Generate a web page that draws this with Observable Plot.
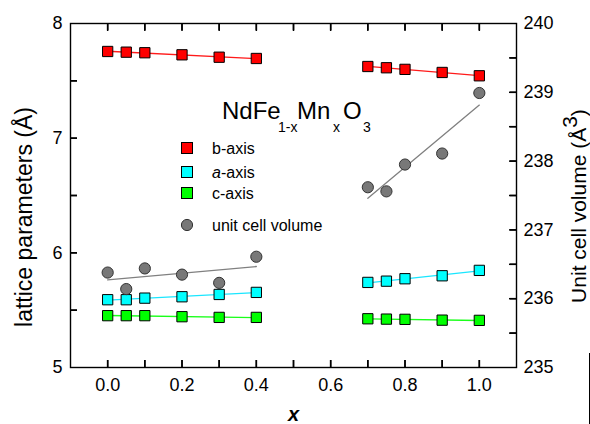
<!DOCTYPE html>
<html><head><meta charset="utf-8">
<script src="https://cdn.jsdelivr.net/npm/d3@7"></script>
<script src="https://cdn.jsdelivr.net/npm/@observablehq/plot@0.6"></script>
<style>
body{margin:0;background:#fff;}
#wrap{position:relative;width:590px;height:424px;font-family:Arial,"Liberation Sans",sans-serif;}
#wrap svg.overlay{position:absolute;left:0;top:0;pointer-events:none;background:none;}
#stray{position:absolute;left:589px;top:353px;width:1px;height:71px;background:#000;}
</style></head><body><div id="wrap"></div>
<script>
// x (Mn content) values
const xLow = [0, 0.05, 0.1, 0.2, 0.3, 0.4];
const xHigh = [0.7, 0.75, 0.8, 0.9, 1.0];
// lattice parameters (Å)
const bLow = [7.756, 7.750, 7.745, 7.727, 7.706, 7.695];
const bHigh = [7.625, 7.614, 7.600, 7.573, 7.544];
const aLow = [5.591, 5.591, 5.605, 5.617, 5.637, 5.655];
const aHigh = [5.742, 5.753, 5.774, 5.800, 5.847];
const cLow = [5.452, 5.452, 5.452, 5.443, 5.437, 5.437];
const cHigh = [5.425, 5.422, 5.420, 5.413, 5.411];
// unit cell volume (Å^3)
const vLow = [236.38, 236.14, 236.44, 236.35, 236.23, 236.61];
const vHigh = [237.62, 237.56, 237.95, 238.11, 238.99];
// ticks
const xTickLabels = [0, 0.2, 0.4, 0.6, 0.8, 1.0];
const xTickMarks = [0, 0.1, 0.2, 0.3, 0.4, 0.5, 0.6, 0.7, 0.8, 0.9, 1.0];
const leftTickLabels = [5, 6, 7, 8];
const leftTickMarks = [5.5, 6, 6.5, 7, 7.5];
const volTickLabels = [235, 236, 237, 238, 239, 240];
const volTickMarks = [235.5, 236, 236.5, 237, 237.5, 238, 238.5, 239, 239.5];
const seriesNames = ["b-axis", "a-axis", "c-axis", "unit cell volume"];
const colors = {"b-axis": "#ff0000", "a-axis": "#00ffff", "c-axis": "#00ff00"};
const lineColors = {"b-axis": "#ff1a1a", "a-axis": "#1ae6ff", "c-axis": "#1aff1a"};

const volMin = 235, volMax = 240, yMin = 5, yMax = 8, xMin = -0.1, xMax = 1.1;
const toY = v => yMin + (v - volMin) * (yMax - yMin) / (volMax - volMin);
const fromY = y => volMin + (y - yMin) * (volMax - volMin) / (yMax - yMin);

const rows = [];
function add(series, xs, ys, group, map = d => d) {
  xs.forEach((x, i) => rows.push({series, x, y: map(ys[i]), group}));
}
add("b-axis", xLow, bLow, "low"); add("b-axis", xHigh, bHigh, "high");
add("a-axis", xLow, aLow, "low"); add("a-axis", xHigh, aHigh, "high");
add("c-axis", xLow, cLow, "low"); add("c-axis", xHigh, cHigh, "high");
add("unit cell volume", xLow, vLow, "low", toY); add("unit cell volume", xHigh, vHigh, "high", toY);

const font = 'Arial, "Liberation Sans", sans-serif';
const W = 590, H = 424, mL = 70, mR = 74, mT = 23, mB = 57;
const T = 7; // inward tick length in px
const tx = T * (xMax - xMin) / (W - mL - mR);
const ty = T * (yMax - yMin) / (H - mT - mB);

const marks = [];
for (const s of ["b-axis", "a-axis", "c-axis"]) {
  marks.push(Plot.linearRegressionY(rows.filter(d => d.series === s), {x: "x", y: "y", z: "group", stroke: lineColors[s], strokeWidth: 1.3, ci: 0}));
}
marks.push(Plot.linearRegressionY(rows.filter(d => d.series === "unit cell volume"), {x: "x", y: "y", z: "group", stroke: "#808080", strokeWidth: 1.3, ci: 0}));
for (const s of ["b-axis", "a-axis", "c-axis"]) {
  marks.push(Plot.dot(rows.filter(d => d.series === s), {x: "x", y: "y", symbol: "square", r: 5.8, fill: colors[s], stroke: "#000", strokeWidth: 1}));
}
marks.push(Plot.dot(rows.filter(d => d.series === "unit cell volume"), {x: "x", y: "y", r: 5.6, fill: "#787878", stroke: "#333", strokeWidth: 1}));

const noText = () => null;
const chart = Plot.plot({
  width: W, height: H,
  marginLeft: mL, marginRight: mR, marginTop: mT, marginBottom: mB,
  style: {fontFamily: font, fontSize: "18px", color: "#000", background: "#fff"},
  x: {domain: [xMin, xMax]},
  y: {domain: [yMin, yMax]},
  marks: [
    Plot.frame({stroke: "#000", strokeWidth: 1.4}),
    // inward tick marks
    Plot.ruleX(xTickMarks, {x: d => d, y1: yMin, y2: yMin + ty, stroke: "#000", strokeWidth: 1.5}),
    Plot.ruleX(xTickMarks, {x: d => d, y1: yMax, y2: yMax - ty, stroke: "#000", strokeWidth: 1.5}),
    Plot.ruleY(leftTickMarks, {y: d => d, x1: xMin, x2: xMin + tx, stroke: "#000", strokeWidth: 1.5}),
    Plot.ruleY(volTickMarks, {y: d => toY(d), x1: xMax, x2: xMax - tx, stroke: "#000", strokeWidth: 1.5}),
    Plot.axisX({anchor: "bottom", ticks: xTickMarks, tickSize: T, dy: -T, tickFormat: noText, label: null, strokeWidth: 1.5}),
    Plot.axisX({anchor: "top", ticks: xTickMarks, tickSize: T, dy: T, tickFormat: noText, label: null, strokeWidth: 1.5}),
    Plot.axisY({anchor: "left", ticks: leftTickMarks, tickSize: T, dx: T, tickFormat: noText, label: null, strokeWidth: 1.5}),
    Plot.axisY({anchor: "right", ticks: volTickMarks.map(toY), tickSize: T, dx: -T, tickFormat: noText, label: null, strokeWidth: 1.5}),
    // tick labels
    Plot.axisX({anchor: "bottom", ticks: xTickLabels, tickSize: 0, tickPadding: 11, tickFormat: d3.format(".1f"),
      label: "x", labelAnchor: "center", labelOffset: 53, labelArrow: "none", fontSize: 18}),
    Plot.axisY({anchor: "left", ticks: leftTickLabels, tickSize: 0, tickPadding: 8, tickFormat: d3.format("d"),
      label: null, fontSize: 18}),
    Plot.axisY({anchor: "right", ticks: volTickLabels.map(toY), tickSize: 0, tickPadding: 7, tickFormat: y => Math.round(fromY(y)),
      label: null, fontSize: 18}),
    ...marks
  ]
});
const wrap = document.getElementById("wrap");
wrap.appendChild(chart);

// style x axis label
d3.select(chart).selectAll("text").filter(function(){ return this.textContent === "x"; })
  .attr("font-style", "italic").attr("font-weight", "bold").attr("font-size", 20);

// overlay: axis titles, formula, legend
const ov = d3.select(wrap).append("svg").attr("class", "overlay").attr("width", W).attr("height", H)
  .style("font-family", font);
ov.append("text").attr("transform", "translate(24,217) rotate(-90)").attr("text-anchor", "middle")
  .attr("dominant-baseline", "central").attr("font-size", 23).attr("fill", "#000").text("lattice parameters (Å)");
const rt = ov.append("text").attr("transform", "translate(578,206) rotate(-90)").attr("text-anchor", "middle")
  .attr("dominant-baseline", "central").attr("font-size", 21).attr("fill", "#000");
rt.append("tspan").text("Unit cell volume (Å");
rt.append("tspan").attr("dy", -9).text("3");
rt.append("tspan").attr("dy", 9).text(")");

const t = ov.append("text").attr("y", 119).attr("font-size", 24).attr("fill", "#000");
const parts = [["NdFe", 222, 0, 24], ["1-x", 278, 13, 14], ["Mn", 297, -13, 24], ["x", 333, 13, 14], ["O", 343, -13, 24], ["3", 363, 13, 14]];
parts.forEach(([s, x, dy, fs]) => t.append("tspan").attr("x", x).attr("dy", dy).attr("font-size", fs).text(s));

const legY = [148, 172, 193, 225];
seriesNames.forEach((s, i) => {
  const g = ov.append("g").attr("transform", `translate(187,${legY[i]})`);
  if (colors[s]) g.append("rect").attr("x", -5.5).attr("y", -5.5).attr("width", 11).attr("height", 11).attr("fill", colors[s]).attr("stroke", "#000");
  else g.append("circle").attr("r", 5.6).attr("fill", "#787878").attr("stroke", "#333");
  g.append("text").attr("x", 25).attr("y", 6).attr("font-size", 16).attr("fill", "#000")
    .html(s === "a-axis" ? '<tspan font-style="italic">a</tspan>-axis' : s);
});
const stray = document.createElement("div"); stray.id = "stray"; wrap.appendChild(stray);
</script></body></html>
